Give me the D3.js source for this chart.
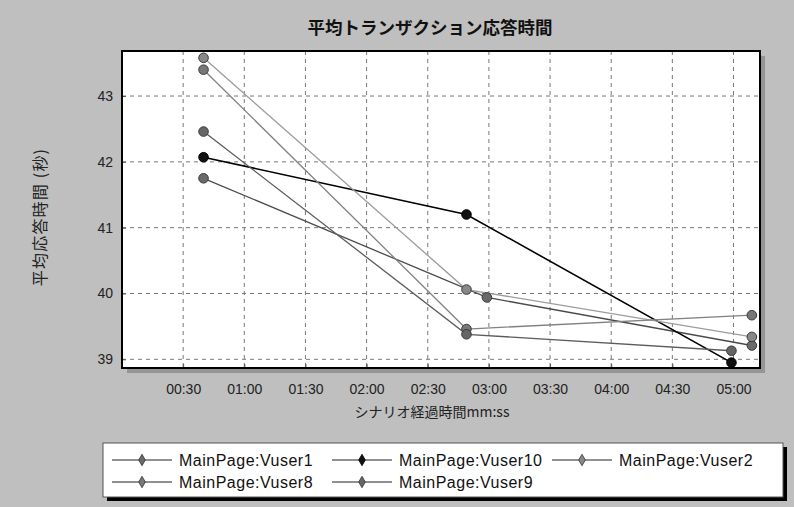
<!DOCTYPE html>
<html><head><meta charset="utf-8">
<script src="https://cdn.jsdelivr.net/npm/d3@7"></script>
<style>
html,body{margin:0;padding:0;background:#bfbfbf;}
svg{display:block;}
</style></head>
<body>
<svg id="chart" width="794" height="507"></svg>
<script>
// ---- data ----
const seriesNames = ["MainPage:Vuser1","MainPage:Vuser10","MainPage:Vuser2","MainPage:Vuser8","MainPage:Vuser9"];
const vuser1Times  = [40, 179, 309];
const vuser1Values = [41.75, 39.94, 39.21];
const vuser10Times  = [40, 169, 299];
const vuser10Values = [42.07, 41.20, 38.95];
const vuser2Times  = [40, 169, 309];
const vuser2Values = [43.58, 40.06, 39.34];
const vuser8Times  = [40, 169, 309];
const vuser8Values = [43.40, 39.46, 39.67];
const vuser9Times  = [40, 169, 299];
const vuser9Values = [42.46, 39.38, 39.13];
const xTickSeconds = [30,60,90,120,150,180,210,240,270,300];
const yTickValues = [39,40,41,42,43];
const titleText = "平均トランザクション応答時間";
const xTitle = "シナリオ経過時間mm:ss";
const yTitle = "平均応答時間 (秒)";

const seriesColors = ["#4a4a4a","#000000","#9c9c9c","#828282","#5c5c5c"];
const markerColors = ["#6a6a6a","#111111","#888888","#777777","#666666"];

const series = [
  {name: seriesNames[0], t: vuser1Times, v: vuser1Values},
  {name: seriesNames[1], t: vuser10Times, v: vuser10Values},
  {name: seriesNames[2], t: vuser2Times, v: vuser2Values},
  {name: seriesNames[3], t: vuser8Times, v: vuser8Values},
  {name: seriesNames[4], t: vuser9Times, v: vuser9Values}
].map((s,i)=>({...s, color: seriesColors[i], mcolor: markerColors[i], pts: s.t.map((tt,j)=>({t:tt, v:s.v[j]}))}));

const svg = d3.select("#chart");
const L = 122, R = 760, T = 51, B = 368;
const x = d3.scaleLinear().domain([0, 313]).range([L, R]);
const y = d3.scaleLinear().domain([38.868, 43.684]).range([B, T]);

// background
svg.append("rect").attr("width",794).attr("height",507).attr("fill","#bfbfbf");
// plot shadow
svg.append("rect").attr("x",L+5).attr("y",T+5).attr("width",R-L).attr("height",B-T).attr("fill","#959595");
svg.append("rect").attr("x",L).attr("y",T).attr("width",R-L).attr("height",B-T).attr("fill","#ffffff");

// title
svg.append("text").attr("x",430).attr("y",34).attr("text-anchor","middle")
  .attr("font-family","'Noto Sans CJK JP'").attr("font-weight","bold").attr("font-size",17.5)
  .attr("fill","#111").text(titleText);

// grid
const grid = svg.append("g");
grid.selectAll("line.v").data(xTickSeconds).join("line")
  .attr("x1",d=>x(d)).attr("x2",d=>x(d)).attr("y1",T).attr("y2",B)
  .attr("stroke","#777").attr("stroke-width",1).attr("stroke-dasharray","4,4");
grid.selectAll("line.h").data(yTickValues).join("line")
  .attr("x1",L).attr("x2",R).attr("y1",d=>y(d)).attr("y2",d=>y(d))
  .attr("stroke","#777").attr("stroke-width",1).attr("stroke-dasharray","4,4");

// axes
const fmt = s => String(Math.floor(s/60)).padStart(2,"0") + ":" + String(s%60).padStart(2,"0");
const xAxis = svg.append("g").attr("transform",`translate(0,${B})`)
  .call(d3.axisBottom(x).tickValues(xTickSeconds).tickFormat(fmt).tickSize(-4).tickPadding(16));
const yAxis = svg.append("g").attr("transform",`translate(${L},0)`)
  .call(d3.axisLeft(y).tickValues(yTickValues).tickFormat(d3.format("d")).tickSize(-4).tickPadding(9));
[xAxis,yAxis].forEach(a=>{
  a.select(".domain").remove();
  a.selectAll(".tick line").attr("stroke","#555");
  a.selectAll(".tick text").attr("font-family","'Liberation Sans', Arial").attr("font-size",14).attr("fill","#222");
});

// plot border
svg.append("rect").attr("x",L).attr("y",T).attr("width",R-L).attr("height",B-T)
  .attr("fill","none").attr("stroke","#000").attr("stroke-width",2);

// axis titles
svg.append("text").attr("x",432).attr("y",417).attr("text-anchor","middle")
  .attr("font-family","'Noto Sans CJK JP'").attr("font-size",14).attr("fill","#222").text(xTitle);
svg.append("text").attr("transform","translate(46,217) rotate(-90)").attr("text-anchor","middle")
  .attr("font-family","'Noto Sans CJK JP'").attr("font-size",16).attr("letter-spacing",1.2)
  .attr("fill","#222").text(yTitle);

// lines
const line = d3.line().x(d=>x(d.t)).y(d=>y(d.v));
const plot = svg.append("g");
series.forEach((s,i)=>{
  plot.append("path").datum(s.pts).attr("d",line).attr("fill","none")
    .attr("stroke",s.color).attr("stroke-width", i===1?1.6:1.3);
});
series.forEach((s,i)=>{
  plot.selectAll(null).data(s.pts).join("circle")
    .attr("cx",d=>x(d.t)).attr("cy",d=>y(d.v)).attr("r",4.8)
    .attr("fill",s.mcolor).attr("stroke",i===1?"#000":"#3a3a3a").attr("stroke-width",1);
});

// legend
const lgX = 103, lgY = 443, lgW = 680, lgH = 54;
svg.append("rect").attr("x",lgX+4).attr("y",lgY+4).attr("width",lgW).attr("height",lgH).attr("fill","#000");
svg.append("rect").attr("x",lgX).attr("y",lgY).attr("width",lgW).attr("height",lgH)
  .attr("fill","#fff").attr("stroke","#555").attr("stroke-width",1);
const colX = [112, 332, 552];
const rowY = [460, 482];
series.forEach((s,i)=>{
  const cx = colX[i%3], cy = rowY[Math.floor(i/3)];
  const g = svg.append("g").attr("transform",`translate(${cx},${cy})`);
  g.append("line").attr("x1",0).attr("x2",60).attr("y1",0).attr("y2",0).attr("stroke","#222").attr("stroke-width",1.2);
  g.append("path").attr("d",d3.symbol(d3.symbolDiamond,38)()).attr("transform","translate(30,0)")
    .attr("fill",s.mcolor).attr("stroke",i===1?"#000":"#333").attr("stroke-width",0.8);
  g.append("text").attr("x",67).attr("y",5.5).attr("font-family","'Liberation Sans', Arial")
    .attr("font-size",16).attr("letter-spacing",0.5).attr("fill","#111").text(s.name);
});
</script>
</body></html>
